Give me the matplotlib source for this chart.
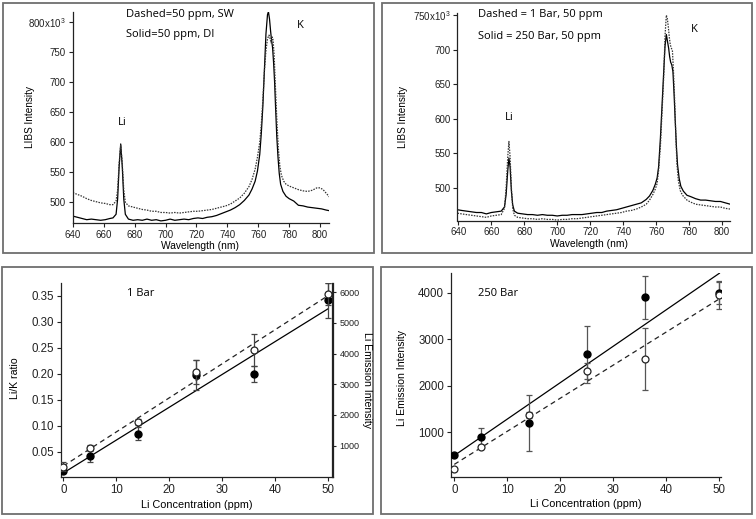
import numpy as np
import matplotlib
matplotlib.use("Agg")
import matplotlib.pyplot as plt
from matplotlib.patches import Rectangle

plt.rcParams['font.family'] = ['Liberation Sans', 'DejaVu Sans']
plt.rcParams['mathtext.default'] = 'regular'

# ---------------- data ----------------
# Top-left: 50 ppm, SW (dashed) vs DI (solid)
tl_solid_wl = [640, 643, 646, 649, 652, 655, 658, 661, 664, 666, 668, 669, 670, 671, 672, 673, 674, 676, 679,
               682, 685, 688, 691, 694, 697, 700, 703, 706, 709, 712, 715, 718, 721, 724, 727, 730, 733, 736,
               739, 742, 745, 748, 751, 754, 756, 758, 759.5, 761, 762, 763, 764, 765, 766, 766.6, 767.3, 768,
               768.6, 769.3, 770, 770.6, 771.2, 772, 772.8, 773.6, 774.5, 776, 778, 780, 783, 786, 789, 792,
               795, 798, 801, 804, 806]
tl_solid_int = [477, 475, 473, 471, 472, 471, 470, 471, 473, 474, 480, 505, 560, 597, 560, 505, 480, 472, 470,
                471, 470, 472, 470, 471, 469, 470, 472, 470, 471, 472, 471, 473, 474, 473, 475, 476, 478, 481,
                484, 487, 491, 496, 503, 512, 522, 535, 552, 580, 615, 660, 720, 780, 812, 817, 805, 785,
                770, 757, 730, 700, 660, 610, 575, 548, 530, 518, 510, 506, 502, 495, 494, 492,
                491, 490, 489, 487, 486]
tl_dash_wl = [640, 643, 646, 649, 652, 655, 658, 661, 664, 666, 668, 669, 670, 671, 672, 673, 674, 676, 679,
              682, 685, 688, 691, 694, 697, 700, 703, 706, 709, 712, 715, 718, 721, 724, 727, 730, 733, 736,
              739, 742, 745, 748, 751, 754, 756, 758, 759.5, 761, 762, 763, 764, 765, 766, 767, 767.7, 768.4,
              769, 769.6, 770.3, 771, 772, 773, 774, 775, 776.5, 778, 780, 783, 786, 789, 792, 795, 798, 800,
              802, 804, 806]
tl_dash_int = [516, 513, 510, 506, 503, 501, 499, 498, 496, 496, 502, 520, 565, 595, 565, 520, 500, 494, 492,
               490, 488, 487, 485, 485, 483, 483, 482, 483, 482, 483, 484, 485, 485, 486, 487, 488, 490, 492,
               494, 497, 502, 507, 515, 526, 538, 555, 575, 600, 630, 670, 718, 752, 772, 778, 772, 765,
               775, 770, 745, 700, 640, 590, 560, 545, 535, 530, 527, 524, 521, 519, 518, 520, 524, 524,
               521, 515, 509]

# Top-right: 1 Bar (dashed) vs 250 Bar (solid), 50 ppm
tr_solid_wl = [639.5, 642, 645, 648, 651, 654, 657, 660, 663, 666, 668, 669, 670, 670.7, 671.4, 672.2, 673, 674,
               676, 679, 682, 685, 688, 691, 694, 697, 700, 703, 706, 709, 712, 715, 718, 721, 724, 727, 730,
               733, 736, 739, 742, 745, 748, 751, 754, 756, 758, 759.5, 760.6, 761.5, 762.6, 763.6, 764.6,
               765.4, 766.2, 766.9, 767.6, 768.2, 768.8, 769.5, 770.2, 770.9, 771.6, 772.3, 773, 774, 775,
               776.5, 778.7, 781, 784, 787, 790, 793, 796, 799, 802, 805]
tr_solid_int = [468, 467, 466, 465, 464, 464, 462, 464, 465, 466, 472, 490, 525, 543, 530, 495, 475, 466,
                463, 462, 461, 461, 460, 461, 460, 460, 459, 460, 460, 461, 461, 461, 462, 463, 464, 464, 466,
                467, 468, 470, 472, 474, 476, 478, 483, 488, 496, 505, 514, 530, 572, 620, 668,
                705, 722, 712, 702, 690, 682, 678, 668, 635, 596, 560, 533, 513, 502,
                495, 489, 487, 484, 482, 482, 481, 480, 480, 478, 476]
tr_dash_wl = [639.5, 642, 645, 648, 651, 654, 657, 660, 663, 666, 668, 669, 670, 670.7, 671.4, 672.2, 673, 674,
              676, 679, 682, 685, 688, 691, 694, 697, 700, 703, 706, 709, 712, 715, 718, 721, 724, 727, 730,
              733, 736, 739, 742, 745, 748, 751, 754, 756, 758, 759.5, 760.6, 761.5, 762.6, 763.6, 764.6,
              765.4, 766.2, 766.8, 767.4, 768, 768.6, 769.3, 769.9, 770.5, 771.2, 771.9, 772.6, 773.5, 774.6,
              776, 778.7, 781, 784, 787, 790, 793, 796, 799, 802, 805]
tr_dash_int = [463, 462, 461, 460, 459, 458, 457, 459, 460, 461, 470, 500, 545, 567, 545, 500, 470, 460,
               457, 456, 455, 455, 454, 455, 454, 454, 453, 454, 454, 455, 455, 456, 457, 458, 459, 460, 461,
               462, 463, 464, 466, 467, 469, 472, 476, 482, 490, 498, 506, 525, 560, 610, 660,
               720, 750, 745, 733, 718, 707, 702, 698, 670, 630, 580, 535, 510, 496,
               489, 482, 479, 476, 475, 474, 473, 472, 472, 470, 469]

# Bottom panels: Li concentration (ppm)
conc = [0, 5, 14, 25, 36, 50]
# 1 Bar: Li/K ratio (filled, left axis) and Li emission intensity (open, right axis)
bar1_ratio = [0.013, 0.042, 0.085, 0.197, 0.199, 0.341]
bar1_ratio_err = [0.004, 0.012, 0.012, 0.029, 0.015, 0.034]
bar1_emis = [313, 913, 1780, 3410, 4108, 5943]
bar1_emis_err = [150, 100, 100, 390, 520, 350]
# 250 Bar: Li emission intensity, filled and open series
bar250_filled = [500, 900, 1200, 2670, 3900, 4000]
bar250_filled_err = [40, 180, 600, 620, 460, 250]
bar250_open = [200, 690, 1370, 2310, 2580, 3940]
bar250_open_err = [30, 40, 60, 170, 665, 290]

# ---------------- figure ----------------
W, H = 756, 519
fig = plt.figure(figsize=(W / 100, H / 100), dpi=100)


def rect(x0, y0, x1, y1):
    return [x0 / W, 1 - y1 / H, (x1 - x0) / W, (y1 - y0) / H]


def fxy(x, y):
    return x / W, 1 - y / H


# panel frames
for (x0, y0, x1, y1) in [(3, 3, 374, 253), (382, 3, 752, 253), (2, 267, 373, 514), (381, 267, 752, 514)]:
    fig.add_artist(Rectangle((x0 / W, 1 - y1 / H), (x1 - x0) / W, (y1 - y0) / H,
                             transform=fig.transFigure, fill=False, edgecolor='#6e6e6e', lw=1.3))

TOP_TICK_FS = 7.0
BOT_TICK_FS = 8.3
LAB_FS = 7.2
TOP_XLAB_FS = 7.4
XLAB_FS = 7.8
ANN_FS = 8.0
ANN_FONT = ['Open Sans', 'DejaVu Sans']
dot_style = (0, (1.2, 1.0))


def style_axes(ax, fs, right=False):
    ax.spines['top'].set_visible(False)
    ax.spines['right'].set_visible(right)
    for s in ax.spines.values():
        s.set_linewidth(0.9)
        s.set_color('#222222')
    ax.tick_params(direction='out', length=3, width=0.8, labelsize=fs, pad=2, colors='#222222')


# ---- top-left ----
ax1 = fig.add_axes(rect(72.8, 11.7, 329.3, 223.3))
ax1.plot(tl_solid_wl, tl_solid_int, color='black', lw=0.9)
ax1.plot(tl_dash_wl, tl_dash_int, color='#333333', lw=0.9, linestyle=dot_style)
ax1.set_xlim(640, 806)
ax1.set_ylim(465, 817)
ax1.set_xticks(np.arange(640, 801, 20))
yt = [500, 550, 600, 650, 700, 750, 800]
ax1.set_yticks(yt)
ax1.set_yticklabels([str(v) for v in yt[:-1]] + [r'800x10$^{3}$'])
style_axes(ax1, TOP_TICK_FS)
ax1.tick_params(axis='x', pad=1.5)
fig.text(*fxy(200, 246), 'Wavelength (nm)', ha='center', va='center', fontsize=TOP_XLAB_FS)
fig.text(*fxy(30, 117), 'LIBS Intensity', ha='center', va='center', rotation=90, fontsize=LAB_FS)
fig.text(*fxy(126, 15), 'Dashed=50 ppm, SW', ha='left', va='center', fontsize=ANN_FS, family=ANN_FONT)
fig.text(*fxy(126, 34), 'Solid=50 ppm, DI', ha='left', va='center', fontsize=ANN_FS, family=ANN_FONT)
fig.text(*fxy(300, 25), 'K', ha='center', va='center', fontsize=ANN_FS, family=ANN_FONT)
fig.text(*fxy(122, 123), 'Li', ha='center', va='center', fontsize=ANN_FS, family=ANN_FONT)

# ---- top-right ----
ax2 = fig.add_axes(rect(457.5, 12.7, 730.3, 221))
ax2.plot(tr_solid_wl, tr_solid_int, color='black', lw=0.9)
ax2.plot(tr_dash_wl, tr_dash_int, color='#333333', lw=0.9, linestyle=dot_style)
ax2.set_xlim(639.5, 805)
ax2.set_ylim(451.7, 753.6)
ax2.set_xticks(np.arange(640, 801, 20))
yt2 = [500, 550, 600, 650, 700, 750]
ax2.set_yticks(yt2)
ax2.set_yticklabels([str(v) for v in yt2[:-1]] + [r'750x10$^{3}$'])
style_axes(ax2, TOP_TICK_FS)
ax2.tick_params(axis='x', pad=1.5)
fig.text(*fxy(589, 244), 'Wavelength (nm)', ha='center', va='center', fontsize=TOP_XLAB_FS)
fig.text(*fxy(403, 117), 'LIBS Intensity', ha='center', va='center', rotation=90, fontsize=LAB_FS)
fig.text(*fxy(478, 15), 'Dashed = 1 Bar, 50 ppm', ha='left', va='center', fontsize=ANN_FS, family=ANN_FONT)
fig.text(*fxy(478, 37), 'Solid = 250 Bar, 50 ppm', ha='left', va='center', fontsize=ANN_FS, family=ANN_FONT)
fig.text(*fxy(694, 29), 'K', ha='center', va='center', fontsize=ANN_FS, family=ANN_FONT)
fig.text(*fxy(509, 117), 'Li', ha='center', va='center', fontsize=ANN_FS, family=ANN_FONT)

# ---- bottom-left ----
ax3 = fig.add_axes(rect(60.7, 283.3, 332.5, 476.7))
ax3b = ax3.twinx()
xfit = np.array([0, 50])
cx = np.array(conc)
p_ratio = np.polyfit(cx, bar1_ratio, 1)
p_emis = np.polyfit(cx, bar1_emis, 1)
ax3.plot(xfit, np.polyval(p_ratio, xfit), color='black', lw=0.9)
ax3b.plot(xfit, np.polyval(p_emis, xfit), color='#222222', lw=0.9, linestyle=(0, (4, 3)))
ax3.errorbar(conc, bar1_ratio, yerr=bar1_ratio_err, fmt='none', ecolor='#444444', elinewidth=0.9,
             capsize=2.2, capthick=0.9)
ax3b.errorbar(conc, bar1_emis, yerr=bar1_emis_err, fmt='none', ecolor='#444444', elinewidth=0.9,
              capsize=2.2, capthick=0.9)
ax3.plot(conc, bar1_ratio, 'o', ms=5, mfc='black', mec='black', zorder=5)
ax3b.plot(conc, bar1_emis, 'o', ms=5, mfc='white', mec='#222222', mew=0.9, zorder=5)
ax3.set_xlim(-0.5, 50.8)
ax3.set_ylim(0.002, 0.374)
ax3b.set_ylim(-13, 6293)
ax3.set_xticks([0, 10, 20, 30, 40, 50])
ax3.set_yticks([0.05, 0.10, 0.15, 0.20, 0.25, 0.30, 0.35])
ax3.set_yticklabels(['0.05', '0.10', '0.15', '0.20', '0.25', '0.30', '0.35'])
ax3b.set_yticks([1000, 2000, 3000, 4000, 5000, 6000])
style_axes(ax3, BOT_TICK_FS, right=True)
style_axes(ax3b, 6.5, right=True)
ax3b.spines['left'].set_visible(False)
ax3b.spines['bottom'].set_visible(False)
fig.text(*fxy(197, 505), 'Li Concentration (ppm)', ha='center', va='center', fontsize=XLAB_FS)
fig.text(*fxy(15, 378), 'Li/K ratio', ha='center', va='center', rotation=90, fontsize=LAB_FS + 0.4)
fig.text(*fxy(367, 380), 'Li Emission Intensity', ha='center', va='center', rotation=-90, fontsize=LAB_FS + 0.4)
fig.text(*fxy(127, 293), '1 Bar', ha='left', va='center', fontsize=ANN_FS, family=ANN_FONT)

# ---- bottom-right ----
ax4 = fig.add_axes(rect(451, 273.3, 721, 476.7))
p_f = np.polyfit(cx, bar250_filled, 1)
p_o = np.polyfit(cx, bar250_open, 1)
ax4.plot(xfit, np.polyval(p_f, xfit), color='black', lw=0.9)
ax4.plot(xfit, np.polyval(p_o, xfit), color='#222222', lw=0.9, linestyle=(0, (4, 3)))
ax4.errorbar(conc, bar250_filled, yerr=bar250_filled_err, fmt='none', ecolor='#555555', elinewidth=0.9,
             capsize=2.2, capthick=0.9)
ax4.errorbar(conc, bar250_open, yerr=bar250_open_err, fmt='none', ecolor='#555555', elinewidth=0.9,
             capsize=2.2, capthick=0.9)
ax4.plot(conc, bar250_filled, 'o', ms=5, mfc='black', mec='black', zorder=5)
ax4.plot(conc, bar250_open, 'o', ms=5, mfc='white', mec='#222222', mew=0.9, zorder=5)
ax4.set_xlim(-0.62, 50.3)
ax4.set_ylim(41, 4415)
ax4.set_xticks([0, 10, 20, 30, 40, 50])
ax4.set_yticks([1000, 2000, 3000, 4000])
style_axes(ax4, BOT_TICK_FS)
fig.text(*fxy(586, 504), 'Li Concentration (ppm)', ha='center', va='center', fontsize=XLAB_FS)
fig.text(*fxy(402, 378), 'Li Emission Intensity', ha='center', va='center', rotation=90, fontsize=LAB_FS + 0.4)
fig.text(*fxy(478, 293), '250 Bar', ha='left', va='center', fontsize=ANN_FS, family=ANN_FONT)

fig.savefig('out.png', dpi=100)
